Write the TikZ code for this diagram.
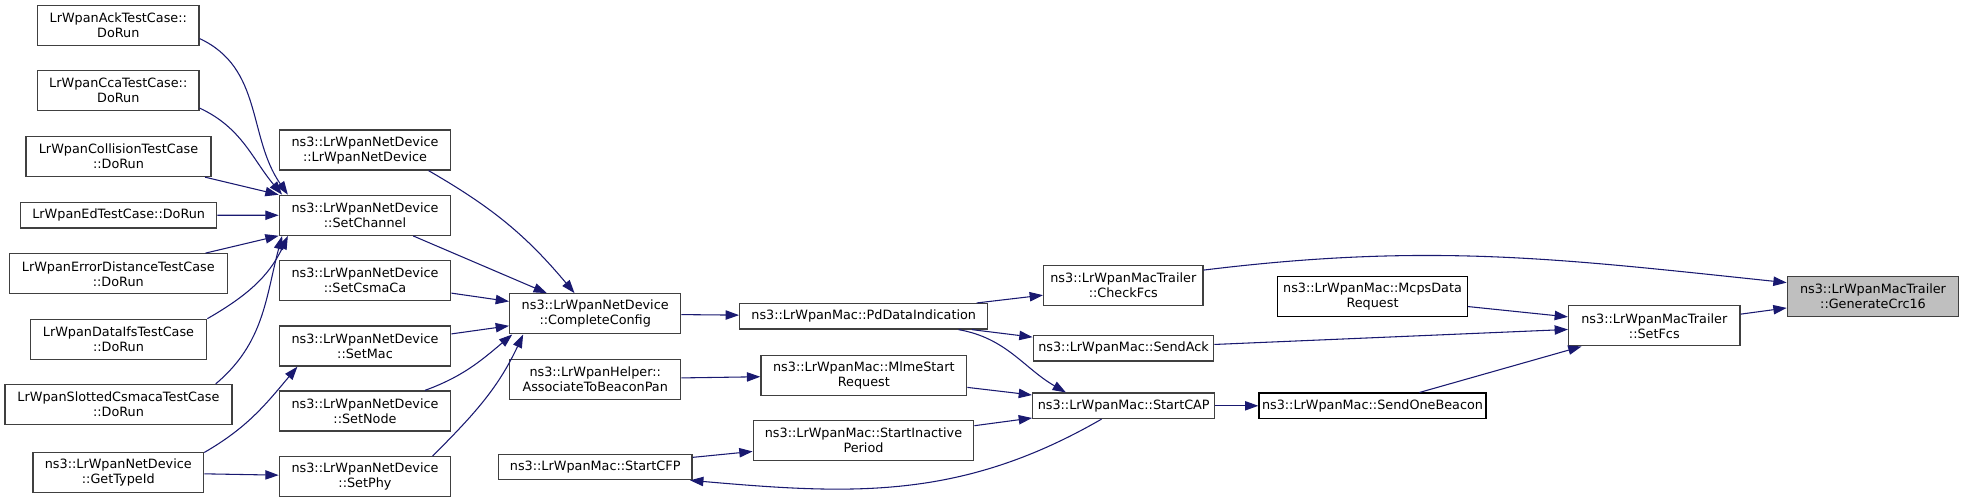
\documentclass[tikz,border=0pt]{standalone}
\usepackage{fontspec}
\setmainfont{DejaVu Sans}
\usepackage{xcolor}
\usepackage{tikz}
\usetikzlibrary{arrows.meta,positioning,shapes,calc}
\definecolor{edgeblue}{RGB}{25,25,112}
\definecolor{boxgray}{RGB}{64,64,64}
\definecolor{hilite}{RGB}{191,191,191}

\begin{document}
\begin{tikzpicture}[x=0.75pt,y=-0.75pt,
  fn/.style={rectangle,draw=boxgray,line width=1pt,fill=white,inner sep=1pt,align=center,
    font=\fontsize{9.6}{11.25}\selectfont,minimum height=30pt},
  fn1/.style={fn,minimum height=19pt},
  leaf/.style={draw=black},
  call/.style={-{Triangle[length=10pt,width=7pt]},edgeblue,line width=0.8pt}]
  \useasboundingbox (0,0) rectangle (1964,503);
  % callers of SetChannel (left column)
  \node[fn,minimum width=121pt] (ack) at (118.3,25.7) {LrWpanAckTestCase::\\DoRun};
  \node[fn,minimum width=121pt] (cca) at (118.3,90.8) {LrWpanCcaTestCase::\\DoRun};
  \node[fn,minimum width=138.75pt] (coll) at (118.5,156.5) {LrWpanCollisionTestCase\\::DoRun};
  \node[fn1,minimum width=147pt] (ed) at (118.7,215.2) {LrWpanEdTestCase::DoRun};
  \node[fn,minimum width=163.5pt] (errd) at (118.3,273.8) {LrWpanErrorDistanceTestCase\\::DoRun};
  \node[fn,minimum width=132.3pt] (difs) at (118.5,339.2) {LrWpanDataIfsTestCase\\::DoRun};
  \node[fn,minimum width=170.25pt] (slot) at (118.5,404.5) {LrWpanSlottedCsmacaTestCase\\::DoRun};
  \node[fn,minimum width=128pt] (gtid) at (118.3,472.3) {ns3::LrWpanNetDevice\\::GetTypeId};
  % net device column
  \node[fn,minimum width=128.5pt] (ctor) at (365,150) {ns3::LrWpanNetDevice\\::LrWpanNetDevice};
  \node[fn,minimum width=128.5pt] (setch) at (365,215.3) {ns3::LrWpanNetDevice\\::SetChannel};
  \node[fn,minimum width=128.5pt] (csma) at (365,280.7) {ns3::LrWpanNetDevice\\::SetCsmaCa};
  \node[fn,minimum width=128.5pt] (mac) at (365,346) {ns3::LrWpanNetDevice\\::SetMac};
  \node[fn,minimum width=128.5pt] (node) at (365,411) {ns3::LrWpanNetDevice\\::SetNode};
  \node[fn,minimum width=128.5pt] (phy) at (365,476.7) {ns3::LrWpanNetDevice\\::SetPhy};
  % middle
  \node[fn,minimum width=128.25pt] (cc) at (595.2,313.8) {ns3::LrWpanNetDevice\\::CompleteConfig};
  \node[fn,minimum width=128.25pt] (assoc) at (595.2,379.2) {ns3::LrWpanHelper::\\AssociateToBeaconPan};
  \node[fn1,minimum width=145.3pt] (cfp) at (595.2,467) {ns3::LrWpanMac::StartCFP};
  \node[fn1,minimum width=186pt] (pdi) at (863.7,316.3) {ns3::LrWpanMac::PdDataIndication};
  \node[fn,minimum width=154.3pt] (mlme) at (863.8,375.2) {ns3::LrWpanMac::MlmeStart\\Request};
  \node[fn,minimum width=165.3pt] (sip) at (863.5,440.5) {ns3::LrWpanMac::StartInactive\\Period};
  \node[fn,minimum width=119.5pt] (chk) at (1123.3,285.7) {ns3::LrWpanMacTrailer\\::CheckFcs};
  \node[fn1,minimum width=135.3pt] (sack) at (1123.5,348.3) {ns3::LrWpanMac::SendAck};
  \node[fn1,minimum width=136.5pt] (scap) at (1123.7,405.8) {ns3::LrWpanMac::StartCAP};
  \node[fn,leaf,minimum width=142.2pt] (mcps) at (1372.5,296.7) {ns3::LrWpanMac::McpsData\\Request};
  \node[fn1,leaf,minimum width=170.25pt] (sob) at (1372.5,405.8) {ns3::LrWpanMac::SendOneBeacon};
  \node[fn,minimum width=128.5pt] (setfcs) at (1654.3,325.8) {ns3::LrWpanMacTrailer\\::SetFcs};
  \node[fn,fill=hilite,minimum width=128.5pt] (gen) at (1873,296.3) {ns3::LrWpanMacTrailer\\::GenerateCrc16};
  % edges into SetChannel
  \draw[call] (ack.-9) to[out=-25,in=125] (setch.165);
  \draw[call] (cca.-12) to[out=-25,in=130] (setch.166);
  \foreach \a in {coll,ed,errd} {
    \draw[call] (\a) -- (setch);
  }
  \draw[call] (difs.13) to[out=30,in=-115] (setch.-165);
  \draw[call] (slot.12) to[out=40,in=-105] (setch.-166);
  \draw[call] (gtid.13) to[out=30,in=-130] (mac.-163);
  \draw[call] (gtid) -- (phy);
  % edges into CompleteConfig
  \draw[call] (ctor.-18) to[out=-30,in=130] (cc.135);
  \foreach \a in {setch,csma,mac} {
    \draw[call] (\a) -- (cc);
  }
  \draw[call] (node.19) to[out=20,in=-140] (cc.-166);
  \draw[call] (phy.17) to[out=45,in=-115] (cc.-164);
  % MAC side
  \draw[call] (cc) -- (pdi);
  \draw[call] (assoc) -- (mlme);
  \draw[call] (cfp) -- (sip);
  \draw[call] (scap.-149) to[out=-150,in=-5] (cfp.-8);
  \draw[call] (pdi) -- (chk);
  \draw[call] (pdi) -- (sack);
  \draw[call] (pdi.-8) to[out=-10,in=150] (scap.167);
  \foreach \a in {mlme,sip} {
    \draw[call] (\a) -- (scap);
  }
  \draw[call] (scap) -- (sob);
  \draw[call] (chk.11) to[out=7,in=174] (gen.171);
  \foreach \a in {mcps,sack,sob} {
    \draw[call] (\a) -- (setfcs);
  }
  \draw[call] (setfcs) -- (gen);
\end{tikzpicture}
\end{document}
